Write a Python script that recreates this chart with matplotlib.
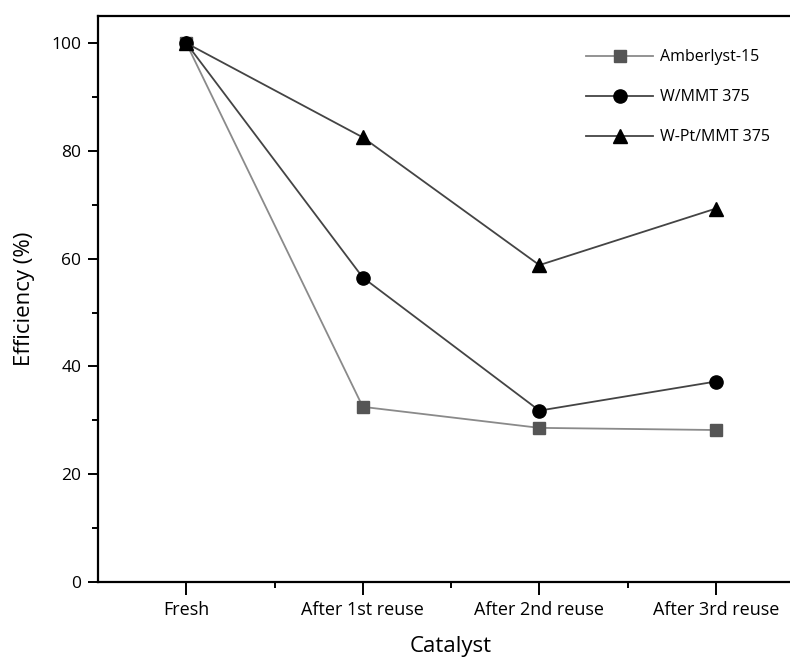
import matplotlib
matplotlib.use("Agg")
import matplotlib.pyplot as plt
from matplotlib.ticker import MultipleLocator

plt.rcParams['font.family'] = ['Open Sans', 'DejaVu Sans']

stages = ["Fresh", "After 1st reuse", "After 2nd reuse", "After 3rd reuse"]
amberlyst = [100, 32.5, 28.6, 28.2]
w_mmt = [100, 56.5, 31.8, 37.2]
wpt_mmt = [100, 82.5, 58.8, 69.3]

fig = plt.figure(figsize=(7.9, 6.58), dpi=100)
ax = fig.add_axes([0.124, 0.1155, 0.894, 0.860])

x = list(range(len(stages)))
ax.plot(x, amberlyst, color='#8a8a8a', lw=1.3, marker='s', ms=8.5,
        mfc='#555555', mec='#555555', label='Amberlyst-15', zorder=3)
ax.plot(x, w_mmt, color='#444444', lw=1.3, marker='o', ms=9.5,
        mfc='black', mec='black', label='W/MMT 375', zorder=4)
ax.plot(x, wpt_mmt, color='#444444', lw=1.3, marker='^', ms=10.5,
        mfc='black', mec='black', label='W-Pt/MMT 375', zorder=5)

ax.set_xlim(-0.5, 3.5)
ax.set_ylim(0, 105)
ax.set_xticks(x)
ax.set_xticklabels(stages)
ax.set_xticks([0.5, 1.5, 2.5], minor=True)
ax.yaxis.set_major_locator(MultipleLocator(20))
ax.yaxis.set_minor_locator(MultipleLocator(10))

for s in ax.spines.values():
    s.set_linewidth(1.6)
ax.tick_params(which='major', direction='out', length=7, width=1.4,
               labelsize=12.5, pad=5)
ax.tick_params(which='minor', direction='out', length=4, width=1.4)
ax.tick_params(axis='x', which='major', length=9, pad=5, labelsize=13)

ax.set_xlabel("Catalyst", fontsize=16, labelpad=12)
ax.set_ylabel("Efficiency (%)", fontsize=16, labelpad=12)

ax.legend(loc='upper left', bbox_to_anchor=(0.742, 0.925),
          bbox_transform=fig.transFigure, frameon=False, fontsize=11.5,
          handlelength=4.2, labelspacing=1.5, borderpad=0,
          borderaxespad=0, handletextpad=0.45)

fig.savefig("out.png", dpi=100)
